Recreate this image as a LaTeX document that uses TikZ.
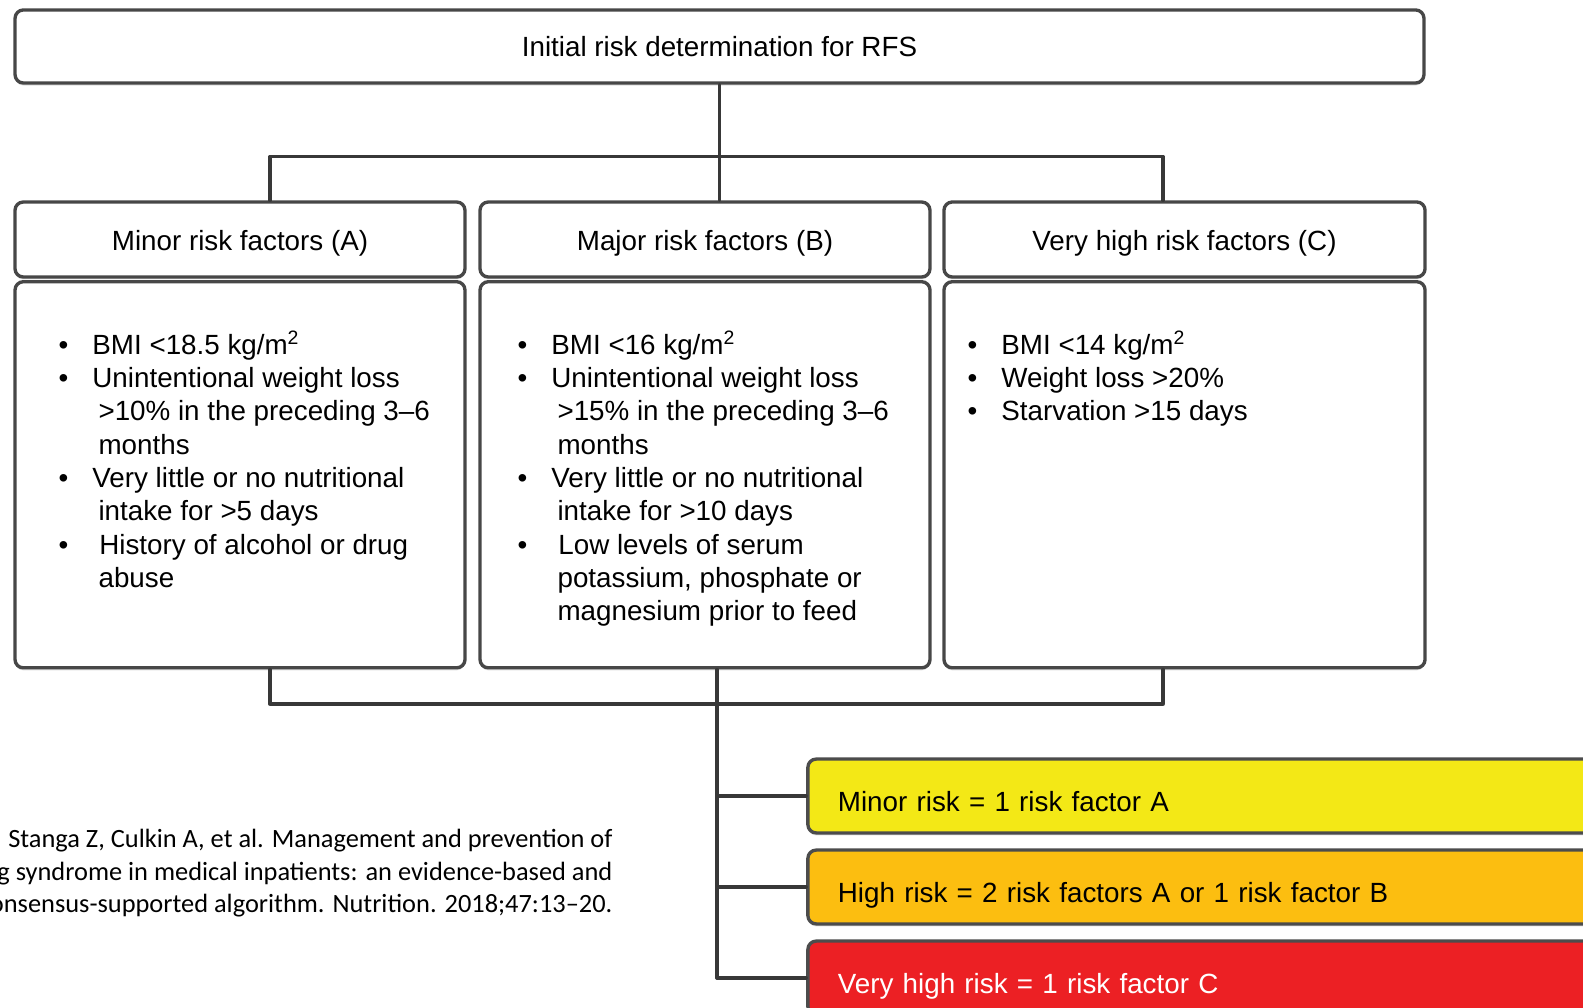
\documentclass[tikz,border=0pt]{standalone}
\usepackage{fontspec}
\setmainfont{Liberation Sans}
\newfontfamily\citefont{Carlito}
\usetikzlibrary{positioning,shadows}
\definecolor{lvlyellow}{RGB}{243,232,22}
\definecolor{lvlorange}{RGB}{252,190,16}
\definecolor{lvlred}{RGB}{236,32,36}
\newcommand{\bul}{\makebox[12.2pt][l]{\textbullet}}
\newcommand{\ind}{\hspace*{14.4pt}}

\begin{document}
\begin{tikzpicture}[x=0.36pt, y=-0.36pt, line join=round, line cap=round,
  font=\fontsize{10}{12}\selectfont,
  box/.style={draw=black!72, line width=1.2pt, rounded corners=3pt, fill=white,
    drop shadow={shadow xshift=0pt, shadow yshift=-0.9pt, opacity=0.25}},
  head/.style={box, minimum height=27pt, inner sep=0pt, text height=8.1pt, text depth=0pt},
  body/.style={box, minimum height=139pt, inner sep=0pt},
  list/.style={anchor=north west, align=left, inner sep=0pt},
  level/.style={box, draw=black!70, minimum height=26.6pt, text width=278pt,
    align=left, inner xsep=10.8pt, inner ysep=0pt, text height=11pt, text depth=0pt},
  link/.style={draw=black!78, line width=1.2pt}]
	\path[use as bounding box, clip] (0,0) rectangle (1583,1008);
	\fill[white] (0,0) rectangle (1583,1008);
	% khung tren cung
	\node[box, minimum width=507.2pt, minimum height=26.3pt] (top) at (719.5,46.5) {Initial risk determination for RFS};
	\node[head, minimum width=162pt] (hdrA) at (240,239.5) {Minor risk factors (A)};
	\node[head, minimum width=162pt] (hdrB) at (705,239.5) {Major risk factors (B)};
	\node[head, minimum width=173.2pt] (hdrC) at (1184.5,239.5) {Very high risk factors (C)};
	\node[body, minimum width=162pt, below=0.5pt of hdrA] (bodyA) {};
	\node[body, minimum width=162pt, below=0.5pt of hdrB] (bodyB) {};
	\node[body, minimum width=173.2pt, below=0.5pt of hdrC] (bodyC) {};
	% cac yeu to
	\node[list] (listA) at (58,330) {\bul BMI <18.5 kg/m\textsuperscript{2}\\ \bul Unintentional weight loss\\ \ind >10\% in the preceding 3–6\\ \ind months\\ \bul Very little or no nutritional\\ \ind intake for >5 days\\ \bul\hspace{2.5pt}History of alcohol or drug\\ \ind abuse};
	\node[list] (listB) at (517,330) {\bul BMI <16 kg/m\textsuperscript{2}\\ \bul Unintentional weight loss\\ \ind >15\% in the preceding 3–6\\ \ind months\\ \bul Very little or no nutritional\\ \ind intake for >10 days\\ \bul\hspace{2.5pt}Low levels of serum\\ \ind potassium, phosphate or\\ \ind magnesium prior to feed};
	\node[list] (listC) at (967,330) {\bul BMI <14 kg/m\textsuperscript{2}\\ \bul Weight loss >20\%\\ \bul Starvation >15 days};
	% muc nguy co
	\node[level, fill=lvlyellow] (minor) at (1224,796) {Minor risk = 1 risk factor A};
	\node[level, fill=lvlorange] (high) at (1224,887) {High risk = 2 risk factors A or 1 risk factor B};
	\node[level, fill=lvlred, text=white] (veryhigh) at (1224,978) {Very high risk = 1 risk factor C};
	\node[anchor=north east, align=right, inner sep=0pt, font=\citefont\fontsize{9.5}{11.6}\selectfont] (cite) at (613,829) {Stanga Z, Culkin A, et al. Management and prevention of\\g syndrome in medical inpatients: an evidence-based and\\onsensus-supported algorithm. Nutrition. 2018;47:13–20.};
	% duong noi
	\coordinate (barL) at (270,156.5); \coordinate (barR) at (1163,156.5);
	\coordinate (lowL) at (270,704); \coordinate (lowR) at (1163,704);
	\coordinate (trunk) at (717,704);
	\draw[link] (top.south) -- (top.south |- hdrB.north);
	\draw[link] (barL |- hdrA.north) -- (barL) -- (barR) -- (barR |- hdrC.north);
	\draw[link] (lowL |- bodyA.south) -- (lowL) -- (lowR) -- (lowR |- bodyC.south);
	\draw[link] (trunk |- bodyB.south) -- (trunk |- veryhigh.west);
	\foreach \lvl in {minor,high,veryhigh}
		\draw[link] (trunk |- \lvl.west) -- (\lvl.west);
\end{tikzpicture}
\end{document}
